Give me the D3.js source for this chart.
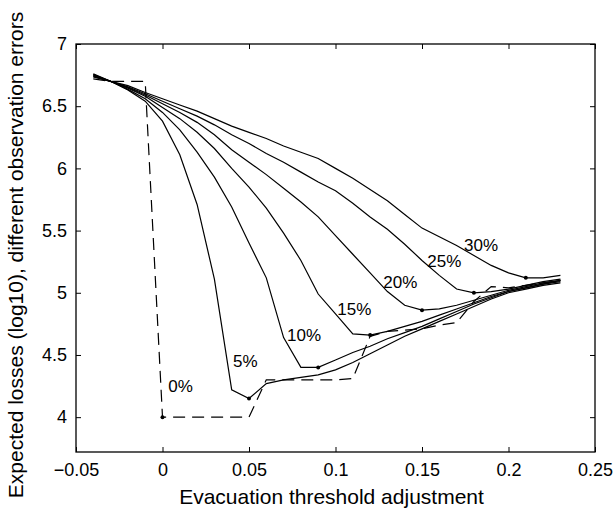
<!DOCTYPE html>
<html>
<head>
<meta charset="utf-8">
<script src="https://cdn.jsdelivr.net/npm/d3@7"></script>
<style>
  body { margin: 0; background: #fff; }
  svg { display: block; font-family: "Liberation Sans", Arial, Helvetica, sans-serif; }
</style>
</head>
<body>
<div id="chart"></div>
<script>
// data
const xVals = [-0.04, -0.03, -0.02, -0.01, 0, 0.01, 0.02, 0.03, 0.04, 0.05, 0.06, 0.07, 0.08, 0.09,
               0.10, 0.11, 0.12, 0.13, 0.14, 0.15, 0.16, 0.17, 0.18, 0.19, 0.20, 0.21, 0.22, 0.23];

const err0  = [6.72, 6.70, 6.70, 6.70, 4.00, 4.00, 4.00, 4.00, 4.00, 4.00, 4.30, 4.30, 4.30, 4.30,
               4.30, 4.31, 4.65, 4.69, 4.70, 4.71, 4.74, 4.76, 4.93, 5.05, 5.04, 5.06, 5.08, 5.10];
const err5  = [6.76, 6.70, 6.63, 6.54, 6.38, 6.11, 5.71, 5.11, 4.22, 4.15, 4.27, 4.30, 4.32, 4.34,
               4.38, 4.44, 4.51, 4.58, 4.65, 4.71, 4.77, 4.83, 4.89, 4.95, 5.00, 5.03, 5.06, 5.08];
const err10 = [6.755, 6.70, 6.635, 6.56, 6.45, 6.31, 6.13, 5.93, 5.69, 5.40, 5.12, 4.64, 4.40, 4.40,
               4.46, 4.52, 4.57, 4.63, 4.68, 4.73, 4.79, 4.85, 4.91, 4.96, 5.01, 5.04, 5.07, 5.09];
const err15 = [6.75, 6.70, 6.645, 6.58, 6.49, 6.40, 6.29, 6.16, 6.00, 5.85, 5.68, 5.48, 5.26, 4.99,
               4.83, 4.67, 4.66, 4.69, 4.73, 4.77, 4.82, 4.87, 4.92, 4.97, 5.01, 5.04, 5.07, 5.10];
const err20 = [6.745, 6.70, 6.65, 6.59, 6.52, 6.45, 6.37, 6.27, 6.15, 6.05, 5.95, 5.84, 5.73, 5.61,
               5.46, 5.31, 5.16, 5.01, 4.90, 4.86, 4.87, 4.90, 4.94, 4.98, 5.02, 5.05, 5.08, 5.10];
const err25 = [6.74, 6.70, 6.655, 6.60, 6.54, 6.48, 6.42, 6.35, 6.27, 6.20, 6.12, 6.05, 5.97, 5.89,
               5.82, 5.72, 5.61, 5.51, 5.39, 5.26, 5.14, 5.03, 5.00, 5.01, 5.03, 5.06, 5.09, 5.11];
const err30 = [6.735, 6.70, 6.665, 6.61, 6.56, 6.51, 6.46, 6.40, 6.34, 6.29, 6.24, 6.18, 6.13, 6.08,
               6.00, 5.92, 5.83, 5.74, 5.63, 5.52, 5.45, 5.38, 5.30, 5.22, 5.16, 5.12, 5.12, 5.14];

const seriesNames = ["0%", "5%", "10%", "15%", "20%", "25%", "30%"];
const seriesValues = [err0, err5, err10, err15, err20, err25, err30];
// x of the minimum (marked with a dot) per series
const dotX = [0, 0.05, 0.09, 0.12, 0.15, 0.18, 0.21];
// label anchors (data units, left/baseline)
const labelX = [0.0033, 0.0408, 0.072, 0.101, 0.1276, 0.1531, 0.1743];
const labelY = [4.20, 4.40, 4.61, 4.825, 5.04, 5.21, 5.335];

const xTicks = [-0.05, 0, 0.05, 0.1, 0.15, 0.2, 0.25];
const yTicks = [4, 4.5, 5, 5.5, 6, 6.5, 7];

// 1: SIZES
const W = 615, H = 512;
const box = { left: 76, right: 595, top: 44, bottom: 452 };

const svg = d3.select("#chart").append("svg")
    .attr("width", W)
    .attr("height", H);

// 2: SCALES
const x = d3.scaleLinear().domain([-0.05, 0.25]).range([box.left, box.right]);
const y = d3.scaleLinear().domain([3.72, 7]).range([box.bottom, box.top]);
const fmt = d3.format("~g");

// 3: AXES (ticks pointing inward, MATLAB style)
const gx = svg.append("g")
    .attr("transform", `translate(0,${box.bottom})`)
    .call(d3.axisBottom(x).tickValues(xTicks).tickFormat(fmt)
        .tickSizeInner(-5).tickSizeOuter(0).tickPadding(11));
const gxTop = svg.append("g")
    .attr("transform", `translate(0,${box.top})`)
    .call(d3.axisTop(x).tickValues(xTicks).tickFormat("")
        .tickSizeInner(-5).tickSizeOuter(0));
const gy = svg.append("g")
    .attr("transform", `translate(${box.left},0)`)
    .call(d3.axisLeft(y).tickValues(yTicks).tickFormat(fmt)
        .tickSizeInner(-5).tickSizeOuter(0).tickPadding(9));
const gyRight = svg.append("g")
    .attr("transform", `translate(${box.right},0)`)
    .call(d3.axisRight(y).tickValues(yTicks).tickFormat("")
        .tickSizeInner(-5).tickSizeOuter(0));

[gx, gxTop, gy, gyRight].forEach(g => {
    g.select(".domain").remove();
    g.selectAll(".tick line").attr("stroke", "#000").attr("stroke-width", 1);
    g.selectAll(".tick text")
        .attr("fill", "#000")
        .style("font-size", "18px")
        .style("font-family", "'Liberation Sans', Arial, Helvetica, sans-serif");
});

// 4: LINES
const line = d3.line()
    .x(d => x(d[0]))
    .y(d => y(d[1]));

seriesValues.forEach((vals, i) => {
    const pts = xVals.map((xv, j) => [xv, vals[j]]);
    svg.append("path")
        .attr("d", line(pts))
        .attr("fill", "none")
        .attr("stroke", "#000")
        .attr("stroke-width", 1.2)
        .attr("stroke-dasharray", i === 0 ? "12,7" : null);

    // dot at the minimum
    const j = xVals.findIndex(v => Math.abs(v - dotX[i]) < 1e-9);
    svg.append("circle")
        .attr("cx", x(dotX[i]))
        .attr("cy", y(vals[j]))
        .attr("r", 2)
        .attr("fill", "#000");
});

// 5: SERIES LABELS
svg.selectAll(".series-label")
    .data(seriesNames)
    .enter()
    .append("text")
    .attr("class", "series-label")
    .attr("x", (d, i) => x(labelX[i]))
    .attr("y", (d, i) => y(labelY[i]))
    .style("font-size", "17px")
    .text(d => d);

// 6: BOX
svg.append("rect")
    .attr("x", box.left)
    .attr("y", box.top)
    .attr("width", box.right - box.left)
    .attr("height", box.bottom - box.top)
    .attr("fill", "none")
    .attr("stroke", "#000")
    .attr("stroke-width", 1.3);

// 7: AXIS LABELS
svg.append("text")
    .attr("x", (box.left + box.right) / 2 - 4)
    .attr("y", 504)
    .attr("text-anchor", "middle")
    .style("font-size", "21px")
    .text("Evacuation threshold adjustment");

svg.append("text")
    .attr("transform", "rotate(-90)")
    .attr("x", -255)
    .attr("y", 23)
    .attr("text-anchor", "middle")
    .style("font-size", "21px")
    .text("Expected losses (log10), different observation errors");
</script>
</body>
</html>
